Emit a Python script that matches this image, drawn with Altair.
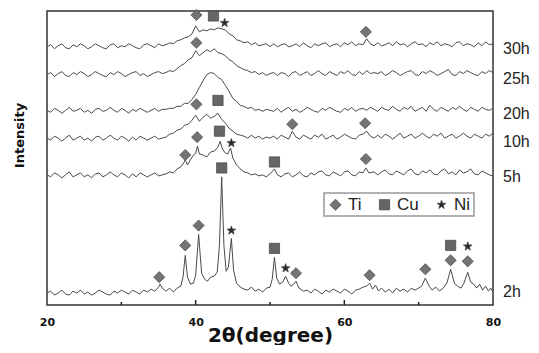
import altair as alt
import pandas as pd

# ---------------- data (intensity in arbitrary units) ----------------
grid = [20 + 0.5 * i for i in range(121)]  # 2-theta grid used by the broad patterns

i30 = [260,262,258,261,263,259,258,262,260,263,261,258,260,263,261,259,258,262,263,259,261,260,263,261,259,258,262,263,261,259,263,261,
       262,264,263,266,267,269,270,273,281,275,277,276,278,277,279,278,277,273,271,267,266,264,265,262,264,261,262,263,260,
       263,260,262,263,260,261,263,260,264,261,259,263,261,263,264,260,262,263,260,264,262,265,261,263,
       262,268,263,261,
       264,261,262,264,261,265,262,263,260,263,265,262,263,260,264,262,265,261,263,262,260,264,265,261,263,262,260,264,261,265,262,263]

i25 = [232,234,230,233,235,231,230,234,232,235,233,230,232,235,233,231,230,234,232,235,233,230,232,234,235,231,233,230,232,234,235,233,
       234,236,235,238,241,243,247,249,256,251,254,257,255,258,254,253,251,247,245,241,239,237,236,234,235,232,234,231,233,
       234,231,234,233,230,234,235,231,233,235,231,233,236,233,231,235,233,231,235,233,236,232,231,235,
       232,236,233,234,
       233,235,231,233,236,234,231,233,235,236,232,231,235,233,236,234,231,233,235,237,232,231,235,233,236,234,232,231,235,233,236,234]

i20 = [196,194,198,196,193,196,199,195,196,198,194,196,193,197,198,195,196,199,196,194,198,196,193,197,195,198,196,194,196,198,195,197,
       197,198,198,200,200,203,203,207,212,219,226,232,234,233,229,227,221,215,208,205,201,200,198,199,196,197,195,197,196,
       195,198,194,197,199,195,197,194,196,199,197,195,194,198,196,199,197,195,194,198,196,199,195,197,
       198,196,199,197,
       195,199,197,196,200,197,195,199,197,200,195,197,199,195,201,197,195,199,197,195,199,197,200,197,195,199,197,195,199,197,196,198]

i10 = [168,166,170,168,165,168,171,166,168,170,166,168,165,169,170,166,168,171,168,166,170,168,165,169,166,170,168,166,168,170,167,168,
       169,172,173,176,177,181,182,186,191,185,189,192,188,190,193,187,183,178,175,172,171,170,168,171,168,170,167,169,168,
       170,167,171,169,167,175,169,167,171,169,167,171,169,172,167,169,171,167,169,172,170,168,167,171,
       172,175,170,168,
       171,168,172,170,167,170,173,168,170,172,168,170,173,170,168,172,170,173,168,170,172,168,170,173,170,168,172,170,168,172,170,173]

x5 = ([20 + 0.5 * i for i in range(33)] +
      [36.5,37.0,37.5,38.0,38.3,38.6,38.9,39.2,39.6,40.0,40.25,40.5,41.0,41.5,42.0,42.5,43.0,43.3,43.6,44.0,44.3,44.7,45.0,
       45.5,46.0,46.5,47.0,47.5,48.0,48.5,49.0,49.5,50.0,50.6,51.0,51.5,52.0] +
      [52.5 + 0.5 * i for i in range(20)] +
      [62.5,62.9,63.3,64.0] +
      [64.5 + 0.5 * i for i in range(32)])
i5 = ([131,129,133,131,128,131,134,129,131,133,129,131,128,132,133,129,131,134,131,129,133,131,128,132,129,133,131,129,131,133,130,131,132] +
      [134,133,137,139,142,146,141,145,150,153,160,152,151,149,154,155,159,165,157,153,152,158,148,
       141,137,134,133,131,132,130,131,129,132,137,131,129,132] +
      [133,129,131,134,130,129,133,131,134,135,131,130,134,132,130,134,135,131,130,134] +
      [133,138,133,134] +
      [131,134,136,132,131,135,133,131,135,137,132,131,135,133,136,132,131,135,137,132,134,131,136,133,134,137,132,131,135,133,131,130])

x2 = ([20 + 0.5 * i for i in range(30)] +
      [35.0,35.2,35.5,36.0,36.5,37.0,37.5,38.0,38.3,38.6,38.9,39.3,39.7,40.0,40.4,40.8,41.2,41.6,42.0,42.5,42.9,43.2,43.5,43.8,
       44.1,44.4,44.8,45.1,45.5,46.0,46.5,47.0,47.5,48.0,48.5,49.0,49.5,50.0,50.3,50.6,50.9,51.3,51.7,52.1,52.5,52.8,53.2,53.5,
       53.9,54.5,55.0] +
      [55.5 + 0.5 * i for i in range(14)] +
      [62.5,63.0,63.4,63.8,64.2,64.6,65.0] +
      [65.5 + 0.5 * i for i in range(10)] +
      [70.4,70.9,71.4,71.8,72.3,72.8,73.3,73.8,74.3,74.8,75.2,75.7,76.1,76.6,77.0,77.4,77.8,78.2,78.6,79.0,79.4,79.7,80.0])
i2 = ([12,14,10,12,15,11,10,14,12,15,11,13,10,12,15,13,11,10,14,12,15,13,11,15,13,11,15,13,16,14] +
      [18,21,17,14,17,13,17,19,28,50,28,21,22,30,71,32,26,24,28,29,33,60,129,60,
       34,38,67,35,22,18,16,15,18,14,16,13,17,18,26,48,27,21,23,29,22,19,21,24,
       17,14,15] +
      [12,16,14,11,15,13,16,14,12,16,14,11,15,16] +
      [18,19,22,16,20,14,17] +
      [13,16,12,17,14,16,13,17,15,17] +
      [19,27,19,15,18,14,17,22,36,22,19,17,22,33,23,21,17,21,15,19,14,17,13])

# peak markers: phase, 2-theta, height
mk_phase = ["Ti","Cu","Ni","Ti",
            "Ti",
            "Ti","Cu","Ti","Ti",
            "Ti","Ti","Cu","Ni","Cu","Ti",
            "Ti","Ti","Ti","Cu","Ni","Cu","Ni","Ti","Ti","Ti","Ti","Cu","Ti","Ni"]
mk_theta = [40.1,42.4,43.9,62.9,
            40.1,
            40.1,43.0,53.0,62.8,
            38.6,40.2,43.2,44.8,50.6,62.9,
            35.1,38.6,40.4,43.5,44.8,50.6,52.1,53.5,63.4,70.9,74.3,74.3,76.6,76.6]
mk_int = [292,291,284,275,
          264,
          202,206,182,183,
          151,169,175,163,144,147,
          28,60,80,138,75,57,37,32,30,36,45,60,44,59]

series_names = ["30h","25h","20h","10h","5h","2h"]
label_int = [258,228,192,164,129,13]

# x tick positions (inward ticks): position, tick length in intensity units
tick_pos = [30, 40, 50, 60, 70]
tick_len = [3, 5, 3, 5, 3]

STAR = ("M0,-1L0.235,-0.324L0.951,-0.309L0.380,0.124L0.588,0.809L0,0.4"
        "L-0.588,0.809L-0.380,0.124L-0.951,-0.309L-0.235,-0.324Z")

# ---------------- build tables ----------------
rows = []
for name, xs, ys in [("30h", grid, i30), ("25h", grid, i25), ("20h", grid, i20),
                     ("10h", grid, i10), ("5h", x5, i5), ("2h", x2, i2)]:
    for a, b in zip(xs, ys):
        rows.append({"series": name, "theta": a, "intensity": b})
lines_df = pd.DataFrame(rows)
mk_df = pd.DataFrame({"phase": mk_phase, "theta": mk_theta, "intensity": mk_int})
lab_df = pd.DataFrame({"label": series_names, "theta": [80] * 6, "intensity": label_int})
tick_df = pd.DataFrame({"theta": tick_pos, "intensity": [0] * len(tick_pos), "top": tick_len})

xscale = alt.Scale(domain=[20, 80], nice=False, zero=False)
yscale = alt.Scale(domain=[0, 296], nice=False, zero=False)

xaxis = alt.Axis(values=[20, 40, 60, 80], ticks=False, domain=False, grid=False, labelFlush=False,
                 labelFont="DejaVu Sans", labelFontWeight="bold", labelFontSize=11, labelColor="#111",
                 labelPadding=11, title="2θ(degree)", titleFont="DejaVu Sans", titleFontWeight="bold",
                 titleFontSize=20, titleColor="#111", titleBaseline="alphabetic", titleY=36)
yaxis = alt.Axis(ticks=False, labels=False, domain=False, grid=False, title="Intensity",
                 titleFont="DejaVu Sans", titleFontWeight="bold", titleFontSize=13, titleColor="#111",
                 titleAngle=270, titleBaseline="middle", titleAlign="center", titleX=-28, titleY=124)

lines = alt.Chart(lines_df).mark_line(color="#4a4a4a", strokeWidth=1, clip=True).encode(
    x=alt.X("theta:Q", scale=xscale, axis=xaxis),
    y=alt.Y("intensity:Q", scale=yscale, axis=yaxis),
    detail="series:N",
    order="theta:Q",
)

legend = alt.Legend(title=None, orient="none", legendX=277, legendY=182, direction="horizontal",
                    strokeColor="#999", fillColor="white", padding=3,
                    labelFont="Liberation Sans", labelFontSize=17, labelColor="#222",
                    labelOffset=4, columnPadding=14, symbolStrokeColor="#444", symbolStrokeWidth=0.7)
markers = alt.Chart(mk_df).mark_point(filled=True, stroke="#444", strokeWidth=0.7, opacity=1).encode(
    x="theta:Q",
    y="intensity:Q",
    shape=alt.Shape("phase:N", scale=alt.Scale(domain=["Ti", "Cu", "Ni"], range=["diamond", "square", STAR]), legend=legend),
    color=alt.Color("phase:N", scale=alt.Scale(domain=["Ti", "Cu", "Ni"], range=["#747474", "#666666", "#2a2a2a"]), legend=legend),
    size=alt.Size("phase:N", scale=alt.Scale(domain=["Ti", "Cu", "Ni"], range=[125, 85, 330]), legend=legend),
)

ticks = alt.Chart(tick_df).mark_rule(color="#222", strokeWidth=1.5).encode(
    x="theta:Q", y="intensity:Q", y2="top:Q")

labels = alt.Chart(lab_df).mark_text(align="left", baseline="middle", dx=10,
                                     font="Liberation Sans", fontSize=16,
                                     color="#222", clip=False).encode(
    x="theta:Q", y="intensity:Q", text="label:N")

chart = alt.layer(lines, ticks, markers, labels).properties(
    width=523, height=337,
    autosize=alt.AutoSizeParams(type="fit", contains="padding"),
    padding={"left": 5, "top": 0, "right": 1, "bottom": 0},
).configure_view(stroke="#333", strokeWidth=1.5).configure_legend(strokeWidth=1.5)

chart.save("out.html", embed_options={"renderer": "svg", "actions": False})
